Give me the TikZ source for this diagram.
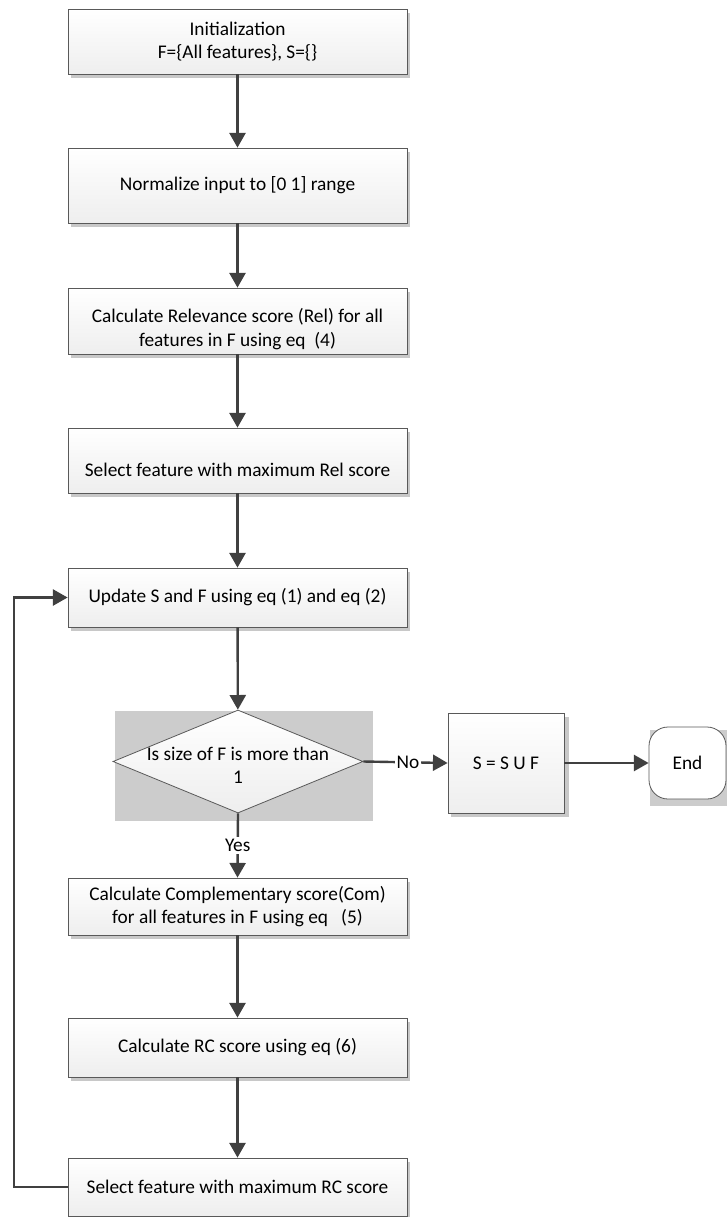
\documentclass[tikz,border=0pt]{standalone}
\usepackage{fontspec}
\setmainfont{Carlito}
\usetikzlibrary{arrows.meta,shapes.geometric,shadows}
\newdimen\pxu \pxu=0.75pt
\definecolor{linec}{HTML}{404040}
\definecolor{borderc}{HTML}{595959}
\definecolor{shadowc}{HTML}{C8C8C8}
\definecolor{panelc}{HTML}{CCCCCC}
\definecolor{fillbot}{HTML}{EEEEEE}
\begin{document}
\begin{tikzpicture}[x=0.75pt,y=-0.75pt,
  font=\fontsize{14.5}{17.5}\selectfont,
  procbox/.style={draw=borderc, line width=0.6pt, top color=white, bottom color=fillbot,
    minimum width=339\pxu, inner sep=0pt, align=center,
    drop shadow={shadow xshift=3\pxu, shadow yshift=-4\pxu, fill=shadowc, opacity=1}},
  plaintext/.style={inner sep=0pt, align=center},
  arr/.style={draw=linec, line width=1.8pt, -{Triangle[length=11pt,width=12pt]}},
  lbl/.style={inner sep=1.5pt, fill=white},
]
\useasboundingbox (0,0) rectangle (727,1217);

% process boxes
\node[procbox, minimum height=65\pxu] (b1) at (237.5,41.5) {Initialization\\F=\{All features\}, S=\{\}};
\node[procbox, minimum height=75\pxu] (b2) at (237.5,185.5) {Normalize input to [0 1] range};
\node[procbox, minimum height=66\pxu] (b3) at (237.5,321) {};
\node[plaintext] (t3) at (237.5,329) {Calculate Relevance score (Rel) for all\\features in F using eq\ \ (4)};
\node[procbox, minimum height=65\pxu] (b4) at (237.5,460.5) {};
\node[plaintext] (t4) at (237.5,470) {Select feature with maximum Rel score};
\node[procbox, minimum height=59\pxu] (b5) at (237.5,597.5) {Update S and F using eq (1) and eq (2)};

% decision
\fill[panelc] (115,711) rectangle (373,821);
\node[diamond, draw=borderc, line width=0.6pt, top color=white, bottom color=fillbot,
  minimum width=250\pxu, minimum height=103\pxu, inner sep=0pt] (dec) at (238,761.5) {};
\node[plaintext] (dtxt) at (238,765) {Is size of F is more than\\1};

\node[procbox, minimum width=116\pxu, minimum height=100\pxu,
  drop shadow={shadow xshift=5\pxu, shadow yshift=-4\pxu, fill=shadowc, opacity=1}] (suf) at (506,763) {S = S U F};

\fill[panelc] (650,730) rectangle (727,806);
\node[draw=borderc, line width=0.6pt, fill=white, rounded corners=19\pxu,
  minimum width=77\pxu, minimum height=72\pxu, inner sep=0pt] (end) at (687.5,763) {End};

\node[procbox, minimum height=57\pxu] (b6) at (237.5,906.5) {Calculate Complementary score(Com)\\for all features in F using eq\ \ \ (5)};
\node[procbox, minimum height=59\pxu] (b7) at (237.5,1047.5) {Calculate RC score using eq (6)};
\node[procbox, minimum height=58\pxu] (b8) at (237.5,1187) {Select feature with maximum RC score};

\coordinate (loopx) at (14,0);

% connectors
\draw[arr] (b1) -- (b2);
\draw[arr] (b2) -- (b3);
\draw[arr] (b3) -- (b4);
\draw[arr] (b4) -- (b5);
\draw[arr] (b5) -- (dec);
\draw[arr] (dec.east) -- node[lbl, pos=0.53] (nolbl) {No} (suf.west);
\draw[arr] (suf) -- (end);
\draw[arr] (dec.south) -- node[lbl] (yeslbl) {Yes} (b6.north);
\draw[arr] (b6) -- (b7);
\draw[arr] (b7) -- (b8);
\draw[arr] (b8.west) -- (b8.west -| loopx) |- (b5.west);
\end{tikzpicture}
\end{document}
